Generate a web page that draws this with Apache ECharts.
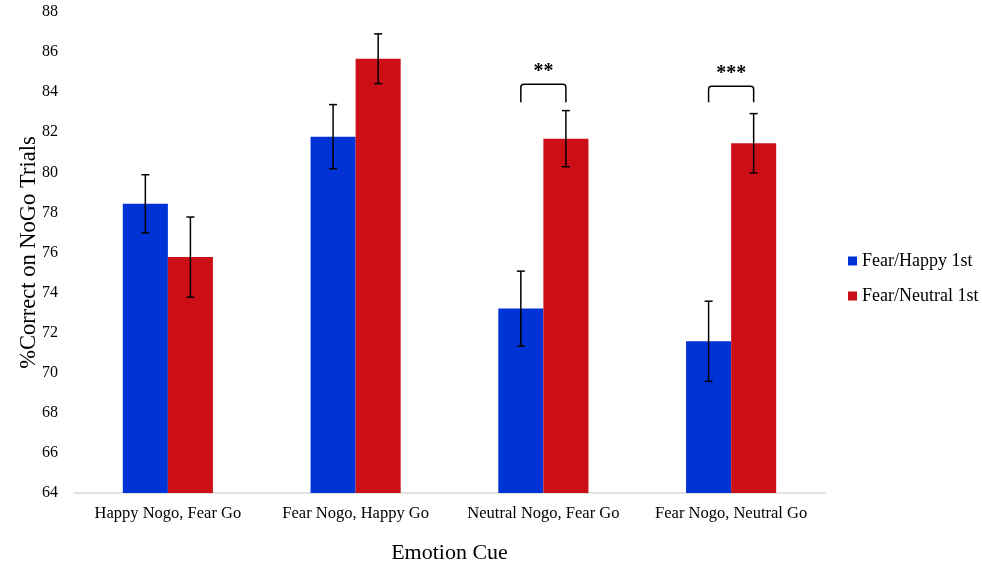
<!DOCTYPE html>
<html>
<head>
<meta charset="utf-8">
<script src="https://cdn.jsdelivr.net/npm/echarts@6/dist/echarts.min.js"></script>
<style>html,body{margin:0;padding:0;background:#fff}#c{width:982px;height:564px}</style>
</head>
<body>
<div id="c"></div>
<script>
var categories = ['Happy Nogo, Fear Go', 'Fear Nogo, Happy Go', 'Neutral Nogo, Fear Go', 'Fear Nogo, Neutral Go'];
var seriesNames = ['Fear/Happy 1st', 'Fear/Neutral 1st'];
var fearHappy = [78.43, 81.78, 73.2, 71.57];
var fearNeutral = [75.77, 85.67, 81.68, 81.45];
var fearHappyErr = [1.45, 1.6, 1.87, 2.0];
var fearNeutralErr = [2.0, 1.24, 1.4, 1.48];
// significance brackets: [category index, bracket top value, leg bottom value, label]
var sigCats = [2, 3];
var sigTop = [84.4, 84.3];
var sigBottom = [83.5, 83.5];
var sigLabels = ['**', '***'];
var yTicks = [64, 66, 68, 70, 72, 74, 76, 78, 80, 82, 84, 86, 88];

var FONT = '"Liberation Serif", "Times New Roman", serif';
var GAP = 0.52;

var chart = echarts.init(document.getElementById('c'));

function errRender(idx, errArr, valArr) {
  return function (params, api) {
    var ci = api.value(0);
    var v = valArr[ci], e = errArr[ci];
    var band = api.size([1, 0])[0];
    var off = band * (1 - GAP) / 4 * (idx === 0 ? -1 : 1);
    var c = api.coord([ci, v]);
    var x = c[0] + off;
    var top = api.coord([ci, v + e])[1];
    var bot = api.coord([ci, v - e])[1];
    var cap = 4;
    var st = { stroke: '#000', lineWidth: 1.5 };
    return {
      type: 'group',
      children: [
        { type: 'line', shape: { x1: x, y1: top, x2: x, y2: bot }, style: st },
        { type: 'line', shape: { x1: x - cap, y1: top, x2: x + cap, y2: top }, style: st },
        { type: 'line', shape: { x1: x - cap, y1: bot, x2: x + cap, y2: bot }, style: st }
      ]
    };
  };
}

function sigRender(params, api) {
  var i = params.dataIndex;
  var ci = sigCats[i];
  var band = api.size([1, 0])[0];
  var off = band * (1 - GAP) / 4;
  var cTop = api.coord([ci, sigTop[i]]);
  var yB = api.coord([ci, sigBottom[i]])[1];
  var x1 = cTop[0] - off, x2 = cTop[0] + off, yT = cTop[1];
  var r = 3;
  var st = { stroke: '#000', lineWidth: 1.5, fill: null };
  return {
    type: 'group',
    children: [
      { type: 'path', shape: { pathData: 'M' + x1 + ' ' + yB + ' L' + x1 + ' ' + (yT + r) + ' Q' + x1 + ' ' + yT + ' ' + (x1 + r) + ' ' + yT + ' L' + (x2 - r) + ' ' + yT + ' Q' + x2 + ' ' + yT + ' ' + x2 + ' ' + (yT + r) + ' L' + x2 + ' ' + yB }, style: st },
      { type: 'text', x: cTop[0], y: yT - 2, style: { text: sigLabels[i], font: 'bold 20px ' + FONT, fill: '#000', textAlign: 'center', textVerticalAlign: 'bottom' } }
    ]
  };
}

chart.setOption({
  backgroundColor: '#fff',
  animation: false,
  grid: { left: 74, right: 157, top: 12, bottom: 71, containLabel: false, outerBoundsMode: 'none' },
  legend: {
    orient: 'vertical', left: 843, top: 247, itemGap: 17,
    itemWidth: 9, itemHeight: 9, icon: 'rect',
    textStyle: { fontFamily: FONT, fontSize: 18, color: '#000' },
    data: seriesNames
  },
  xAxis: {
    type: 'category', data: categories,
    name: 'Emotion Cue', nameLocation: 'middle', nameGap: 49, nameMoveOverlap: false,
    nameTextStyle: { fontFamily: FONT, fontSize: 22, color: '#000' },
    axisLine: { lineStyle: { color: '#d9d9d9', width: 1.5 } },
    axisTick: { show: false },
    axisLabel: { fontFamily: FONT, fontSize: 16.5, color: '#000', margin: 12, interval: 0, hideOverlap: false }
  },
  yAxis: {
    type: 'value', min: 64, max: 88, interval: 2,
    name: '%Correct on NoGo Trials', nameLocation: 'middle', nameGap: 33, nameMoveOverlap: false,
    nameTextStyle: { fontFamily: FONT, fontSize: 22.5, color: '#000' },
    axisLine: { show: false }, axisTick: { show: false },
    splitLine: { show: false },
    axisLabel: { fontFamily: FONT, fontSize: 16, color: '#000', margin: 16,
      formatter: function (v) { return yTicks.indexOf(v) >= 0 ? String(v) : ''; } }
  },
  series: [
    { name: seriesNames[0], type: 'bar', data: fearHappy, barGap: '0%', barCategoryGap: '52%',
      itemStyle: { color: '#0033d6' } },
    { name: seriesNames[1], type: 'bar', data: fearNeutral, barGap: '0%', barCategoryGap: '52%',
      itemStyle: { color: '#cc0f17' } },
    { type: 'custom', renderItem: errRender(0, fearHappyErr, fearHappy), data: fearHappy.map(function (v, i) { return [i, v]; }), z: 5, silent: true },
    { type: 'custom', renderItem: errRender(1, fearNeutralErr, fearNeutral), data: fearNeutral.map(function (v, i) { return [i, v]; }), z: 5, silent: true },
    { type: 'custom', renderItem: sigRender, data: sigCats.map(function (c, i) { return [c, sigTop[i]]; }), z: 5, silent: true }
  ]
});
</script>
</body>
</html>
